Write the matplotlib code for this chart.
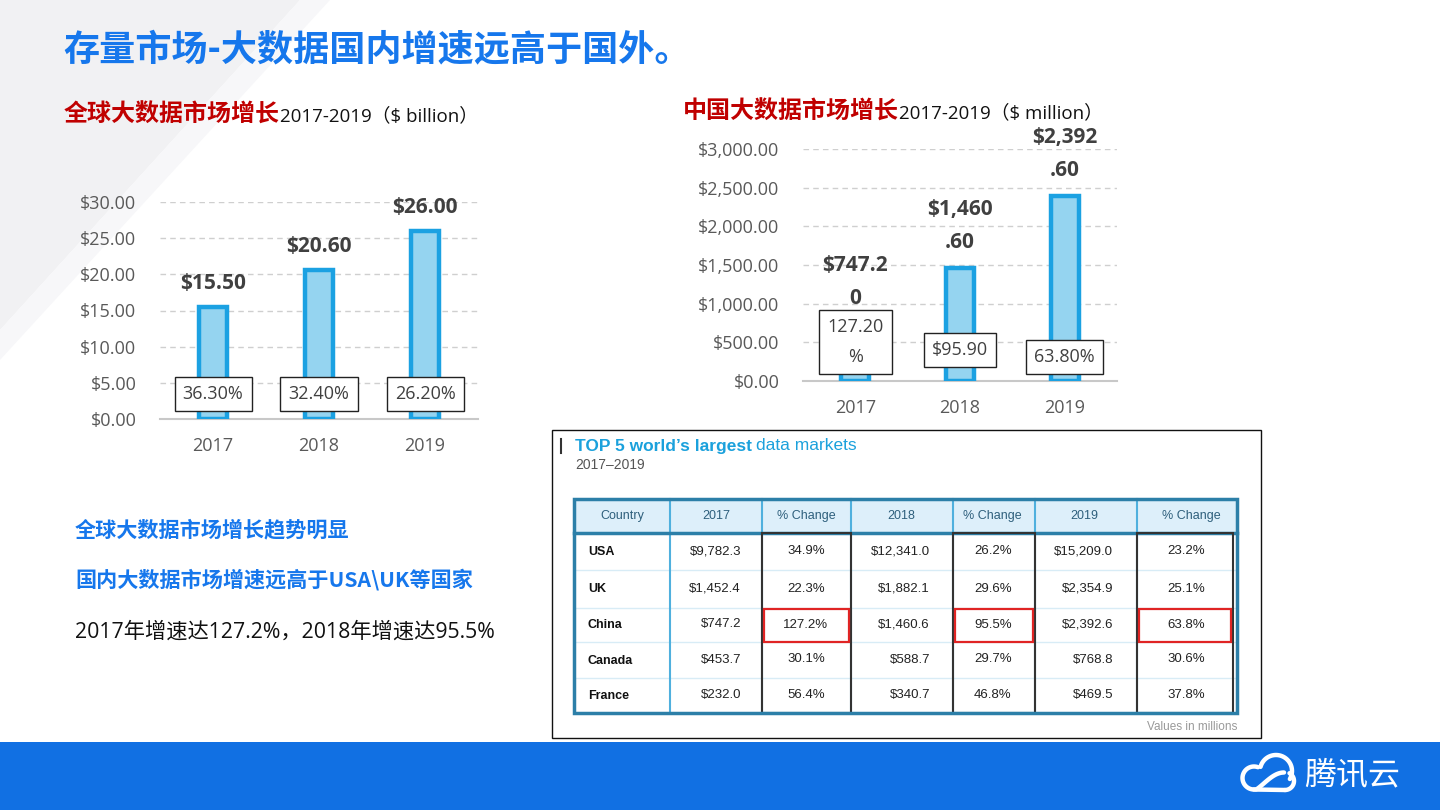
import numpy as np
import matplotlib
matplotlib.use('Agg')
import matplotlib.pyplot as plt
from matplotlib.patches import Rectangle, Polygon

plt.rcParams['text.parse_math'] = False
CJK = ['Noto Sans CJK SC', 'DejaVu Sans']
LAT = ['Open Sans', 'Noto Sans CJK SC', 'DejaVu Sans']
TAB = ['Liberation Sans', 'DejaVu Sans']

# ---------------- data ----------------
years = ['2017', '2018', '2019']
global_values = [15.50, 20.60, 26.00]
global_growth = ['36.30%', '32.40%', '26.20%']
global_ticks = [0, 5, 10, 15, 20, 25, 30]

china_values = [747.20, 1460.60, 2392.60]
china_growth = ['127.20\n%', '$95.90', '63.80%']
china_ticks = [0, 500, 1000, 1500, 2000, 2500, 3000]

countries = ['USA', 'UK', 'China', 'Canada', 'France']
v2017 = [9782.3, 1452.4, 747.2, 453.7, 232.0]
c2017 = [34.9, 22.3, 127.2, 30.1, 56.4]
v2018 = [12341.0, 1882.1, 1460.6, 588.7, 340.7]
c2018 = [26.2, 29.6, 95.5, 29.7, 46.8]
v2019 = [15209.0, 2354.9, 2392.6, 768.8, 469.5]
c2019 = [23.2, 25.1, 63.8, 30.6, 37.8]
table_header = ['Country', '2017', '% Change', '2018', '% Change', '2019', '% Change']

title = '存量市场-大数据国内增速远高于国外。'
sub_left = ('全球大数据市场增长', '2017-2019（$ billion）')
sub_right = ('中国大数据市场增长', '2017-2019（$ million）')
bullets = ['全球大数据市场增长趋势明显', '国内大数据市场增速远高于USA\\UK等国家',
           '2017年增速达127.2%，2018年增速达95.5%']

# ---------------- layout ----------------
W, H = 1440, 810
BLUE = '#1677EC'
RED = '#C00000'
BAR_FACE = '#95D4F0'
BAR_EDGE = '#1BA1E2'
TICK_C = '#595959'

fig = plt.figure(figsize=(14.4, 8.1), dpi=100)
fig.patch.set_facecolor('white')
bg = fig.add_axes([0, 0, 1, 1])
bg.set_xlim(0, W)
bg.set_ylim(H, 0)
bg.axis('off')
renderer = fig.canvas.get_renderer()

# background subtle shapes
bg.add_patch(Polygon([(0, 0), (300, 0), (0, 330)], closed=True, fc='#F1F1F3', ec='none', zorder=0))
bg.add_patch(Polygon([(300, 0), (330, 0), (0, 360), (0, 330)], closed=True, fc='#F7F7F9', ec='none', zorder=0))

# footer
bg.add_patch(Rectangle((0, 742), W, 68, fc='#1170E3', ec='none', zorder=1))


def text_after(t, x_gap, y, s, **kw):
    bb = t.get_window_extent(renderer)
    return bg.text(bb.x1 + x_gap, y, s, **kw)


# titles
bg.text(63, 50, title, fontsize=26, fontweight='black', color=BLUE, family=CJK, va='center', ha='left')
t = bg.text(64, 115, sub_left[0], fontsize=17.3, fontweight='bold', color=RED, family=CJK, va='center')
text_after(t, 0, 116, sub_left[1], fontsize=13.5, color='#111111', family=LAT, va='center')
t = bg.text(683, 112, sub_right[0], fontsize=17.3, fontweight='bold', color=RED, family=CJK, va='center')
text_after(t, 0, 113, sub_right[1], fontsize=13.5, color='#111111', family=LAT, va='center')

# bullets
bg.text(75, 530, bullets[0], fontsize=15.2, fontweight='bold', color=BLUE, family=CJK, va='center')
bg.text(75, 580, bullets[1], fontsize=15.2, fontweight='bold', color=BLUE, family=CJK, va='center')
bg.text(75, 632, bullets[2], fontsize=15.3, color='#111111', family=LAT, va='center')


# ---------------- bar charts ----------------
def style_axis(ax, ticks, fmt):
    ax.set_facecolor('none')
    for s in ['top', 'right', 'left']:
        ax.spines[s].set_visible(False)
    ax.spines['bottom'].set_color('#C8C8C8')
    ax.spines['bottom'].set_linewidth(1.5)
    ax.set_yticks(ticks)
    ax.set_yticklabels([fmt(v) for v in ticks], family=LAT, fontsize=13, color=TICK_C)
    ax.set_xticks(range(len(years)))
    ax.set_xticklabels(years, family=LAT, fontsize=13, color=TICK_C)
    ax.tick_params(axis='y', length=0, pad=17)
    ax.tick_params(axis='x', length=0, pad=13)
    ax.yaxis.grid(True, color='#CFCFCF', linestyle=(0, (4, 3)), linewidth=1)
    ax.set_axisbelow(True)
    ax.set_xlim(-0.5, 2.5)
    ax.set_ylim(ticks[0], ticks[-1])


ax1 = fig.add_axes([160 / W, 1 - 419 / H, 318 / W, 217 / H])
style_axis(ax1, global_ticks, lambda v: f'${v:,.2f}')
x = np.arange(len(years))
ax1.bar(x, global_values, width=0.27, color=BAR_FACE, edgecolor=BAR_EDGE, linewidth=3.2, zorder=3)
for i, v in enumerate(global_values):
    ax1.annotate(f'${v:,.2f}', (i, v), xytext=(0, 17), textcoords='offset points', ha='center',
                 va='center', fontsize=15, fontweight='bold', color='#404040', family=LAT,
                 annotation_clip=False)
    ax1.text(i, 3.46, global_growth[i], ha='center', va='center', fontsize=13, color='#404040',
             family=LAT, zorder=5,
             bbox=dict(boxstyle='square,pad=0.45', fc='white', ec='#222222', lw=1))

ax2 = fig.add_axes([803 / W, 1 - 381 / H, 314 / W, 232 / H])
style_axis(ax2, china_ticks, lambda v: f'${v:,.2f}')
ax2.bar(x, china_values, width=0.27, color=BAR_FACE, edgecolor=BAR_EDGE, linewidth=3.2, zorder=3)
china_box_y = [504, 401, 310]
for i, v in enumerate(china_values):
    s = f'${v:,.2f}'
    s = s[:6] + '\n' + s[6:]
    ax2.annotate(s, (i, v), xytext=(0, 30), textcoords='offset points', ha='center',
                 va='center', fontsize=15, fontweight='bold', color='#404040', family=LAT,
                 linespacing=1.75, annotation_clip=False)
    ax2.text(i, china_box_y[i], china_growth[i], ha='center', va='center', fontsize=13,
             color='#404040', family=LAT, zorder=5, linespacing=1.9,
             bbox=dict(boxstyle='square,pad=0.45', fc='white', ec='#222222', lw=1))

# ---------------- table image ----------------
bg.add_patch(Rectangle((552, 430), 709, 308, fc='white', ec='#111111', lw=1, zorder=2))
bg.plot([561, 561], [439, 453], color='#333333', lw=1.5, zorder=3)
t = bg.text(575, 446, 'TOP 5 world\u2019s largest', fontsize=12.5, fontweight='bold', color='#1BA1DC',
            family=TAB, va='center', zorder=3)
text_after(t, 4, 446, 'data markets', fontsize=12.5, color='#1BA1DC', family=TAB, va='center', zorder=3)
bg.text(575, 465, '2017\u20132019', fontsize=10, color='#555555', family=TAB, va='center', zorder=3)
bg.text(1237, 727, 'Values in millions', fontsize=8.5, color='#999999', family=TAB, va='center',
        ha='right', zorder=3)

cols = [574, 670, 762, 851, 953, 1035, 1137, 1237]
rows = [499, 533, 570, 608, 642, 678, 713]
bg.add_patch(Rectangle((cols[0], rows[0]), cols[-1] - cols[0], rows[1] - rows[0], fc='#DDEFFA',
                       ec='none', zorder=3))
for r in rows[2:-1]:
    bg.plot([cols[0], cols[-1]], [r, r], color='#D8ECF6', lw=1, zorder=3)
for c in cols[1:-1]:
    bg.plot([c, c], [rows[0], rows[-1]], color='#4FB0DE', lw=1.5, zorder=4)
bg.plot([cols[0], cols[-1]], [rows[1], rows[1]], color='#2C7FA8', lw=2.5, zorder=5)
for ci in (2, 4, 6):
    right = cols[ci + 1] - (4 if ci == 6 else 0)
    bg.add_patch(Rectangle((cols[ci], rows[1]), right - cols[ci], rows[-1] - rows[1], fc='none',
                           ec='#333333', lw=1.5, zorder=5))
    bg.add_patch(Rectangle((cols[ci] + 2, rows[3] + 1), right - cols[ci] - 4, rows[4] - rows[3] - 1,
                           fc='none', ec='#E02424', lw=1.6, zorder=6))
bg.add_patch(Rectangle((cols[0], rows[0]), cols[-1] - cols[0], rows[-1] - rows[0], fc='none',
                       ec='#2C7FA8', lw=2.5, zorder=6))

header_x = [622, 716, 806, 901, 992, 1084, 1191]
for hx, h in zip(header_x, table_header):
    bg.text(hx, 516, h, fontsize=9, color='#2E5F7C', family=TAB, ha='center', va='center', zorder=7)

val_right = [741, 930, 1113]
pct_center = [806, 993, 1186]
for ri, name in enumerate(countries):
    yc = (rows[ri + 1] + rows[ri + 2]) / 2 + 0.5
    bg.text(588, yc, name, fontsize=9, fontweight='bold', color='#111111', family=TAB,
            ha='left', va='center', zorder=7)
    for k, (vals, pcts) in enumerate(((v2017, c2017), (v2018, c2018), (v2019, c2019))):
        bg.text(val_right[k], yc - 1, f'${vals[ri]:,.1f}', fontsize=9.5, color='#222222',
                family=TAB, ha='right', va='center', zorder=7)
        bg.text(pct_center[k], yc - 1, f'{pcts[ri]:.1f}%', fontsize=9.5, color='#222222',
                family=TAB, ha='center', va='center', zorder=7)

# ---------------- logo ----------------
def arc(cx, cy, r, t0, t1):
    tt = np.radians(np.linspace(t0, t1, 60))
    return cx + r * np.cos(tt), cy + r * np.sin(tt)

lw_logo = 3.2
xs, ys = arc(1254, 778, 11.5, 90, 290)
bg.plot(xs, ys, color='white', lw=lw_logo, solid_capstyle='round', zorder=8)
xs, ys = arc(1276, 771, 16, 195, 390)
bg.plot(xs, ys, color='white', lw=lw_logo, solid_capstyle='round', zorder=8)
xs, ys = arc(1285, 781, 9, -60, 90)
bg.plot(xs, ys, color='white', lw=lw_logo, solid_capstyle='round', zorder=8)
bg.plot([1254, 1285], [789.5, 790], color='white', lw=lw_logo, solid_capstyle='round', zorder=8)
sx = np.linspace(1256, 1284, 40)
sy = 789.5 - 17 * np.sin(np.linspace(0, np.pi / 2, 40)) ** 1.2
bg.plot(sx, sy, color='white', lw=lw_logo, solid_capstyle='round', zorder=8)
bg.text(1304, 775, '腾讯云', fontsize=23, color='white', family=CJK, va='center', ha='left', zorder=8)

fig.savefig('out.png', dpi=100)
